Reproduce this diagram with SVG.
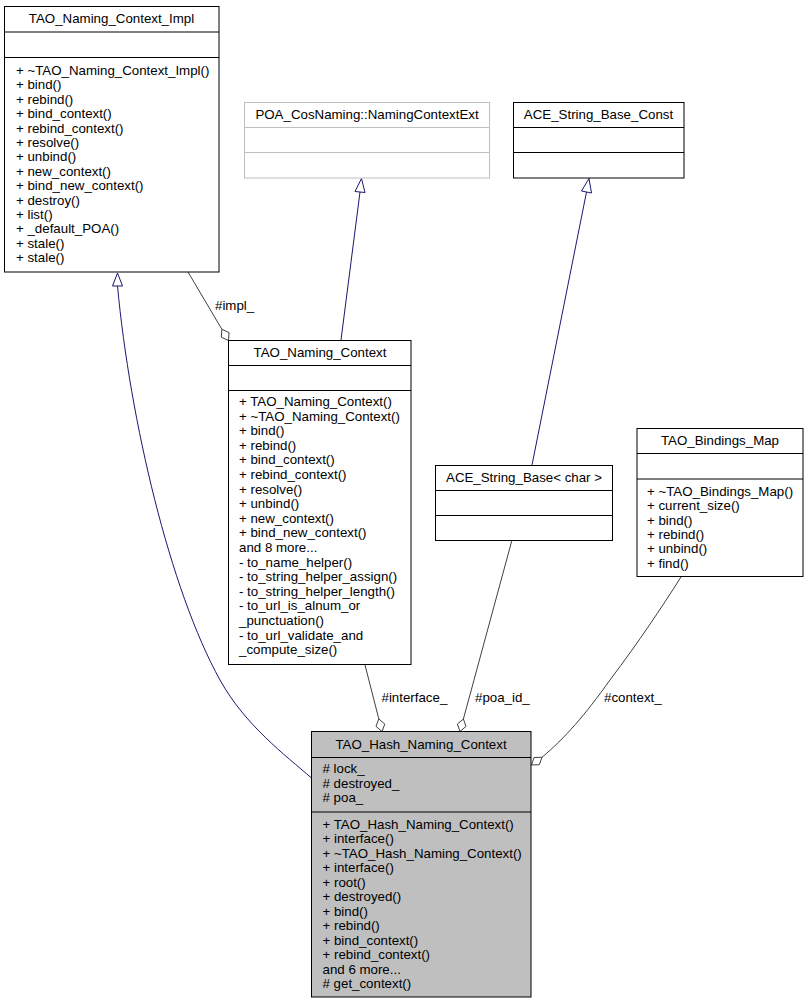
<svg xmlns="http://www.w3.org/2000/svg" width="808" height="1005" viewBox="0 0 808 1005">
<style>
text{font-family:"Liberation Sans",Arial,Helvetica,sans-serif;font-size:13.3px;fill:#000}
.t{text-anchor:middle}
.box{fill:#fff;stroke:#000;stroke-width:1}
.sep{stroke:#000;stroke-width:1}
.gbox{fill:#fff;stroke:#bfbfbf;stroke-width:1}
.gsep{stroke:#bfbfbf;stroke-width:1}
.hbox{fill:#bfbfbf;stroke:#000;stroke-width:1}
.gen{fill:none;stroke:#191970;stroke-width:1}
.genh{fill:#fff;stroke:#191970;stroke-width:1}
.agg{fill:none;stroke:#404040;stroke-width:1}
.aggh{fill:#fff;stroke:#404040;stroke-width:1}
</style>
<rect width="808" height="1005" fill="#fff"/>
<g id="connectors">
  <path class="gen" d="M311.5,778 C285,755 245,725 220,680 C170,590 130,420 117.5,286"/>
  <polygon class="genh" points="117.5,273 112.5,286 122.5,286"/>
  <path class="gen" d="M341,340 L360,192"/>
  <polygon class="genh" points="361.5,178.5 355,191.5 365,192.5"/>
  <path class="gen" d="M532,465 L586.5,192"/>
  <polygon class="genh" points="589,178.5 581.5,191 591.5,193"/>
  <path class="agg" d="M188,272 L221.9,329.3"/>
  <polygon class="aggh" points="228.5,340.5 229.1,332.6 221.9,329.3 221.3,337.2"/>
  <text x="215" y="310">#impl_</text>
  <path class="agg" d="M365,665 L378.8,718.9"/>
  <polygon class="aggh" points="382,731.5 384.8,724.1 378.8,718.9 376.0,726.3"/>
  <text x="381.5" y="702">#interface_</text>
  <path class="agg" d="M512,540 L463.4,719"/>
  <polygon class="aggh" points="460,731.5 466.0,726.4 463.4,719 457.4,724.0"/>
  <text x="475" y="702">#poa_id_</text>
  <path class="agg" d="M681,577 C660,610 640,640 610,680 C585,715 565,738 542,757.3"/>
  <polygon class="aggh" points="531.5,765 539.4,764.7 542,757.3 534.0,757.5"/>
  <text x="604" y="702">#context_</text>
</g>
<g id="TAO_Naming_Context_Impl">
  <rect class="box" x="4.5" y="6.5" width="214.5" height="265.5"/>
  <line class="sep" x1="4.5" y1="32" x2="219" y2="32"/>
  <line class="sep" x1="4.5" y1="57.5" x2="219" y2="57.5"/>
  <text class="t" x="111.5" y="23">TAO_Naming_Context_Impl</text>
  <text x="16" y="75">+ ~TAO_Naming_Context_Impl()</text>
  <text x="16" y="89.4">+ bind()</text>
  <text x="16" y="103.8">+ rebind()</text>
  <text x="16" y="118.2">+ bind_context()</text>
  <text x="16" y="132.6">+ rebind_context()</text>
  <text x="16" y="147">+ resolve()</text>
  <text x="16" y="161.4">+ unbind()</text>
  <text x="16" y="175.8">+ new_context()</text>
  <text x="16" y="190.2">+ bind_new_context()</text>
  <text x="16" y="204.6">+ destroy()</text>
  <text x="16" y="219">+ list()</text>
  <text x="16" y="233.4">+ _default_POA()</text>
  <text x="16" y="247.8">+ stale()</text>
  <text x="16" y="262.2">+ stale()</text>
</g>
<g id="POA_CosNaming_NamingContextExt">
  <rect class="gbox" x="244.5" y="102.5" width="245" height="75.5"/>
  <line class="gsep" x1="244.5" y1="127.5" x2="489.5" y2="127.5"/>
  <line class="gsep" x1="244.5" y1="152.5" x2="489.5" y2="152.5"/>
  <text class="t" x="367" y="119">POA_CosNaming::NamingContextExt</text>
</g>
<g id="ACE_String_Base_Const">
  <rect class="box" x="513.5" y="102.5" width="170.5" height="75.5"/>
  <line class="sep" x1="513.5" y1="127.5" x2="684" y2="127.5"/>
  <line class="sep" x1="513.5" y1="152.5" x2="684" y2="152.5"/>
  <text class="t" x="598.5" y="119">ACE_String_Base_Const</text>
</g>
<g id="TAO_Naming_Context">
  <rect class="box" x="228.5" y="340.5" width="182.5" height="324"/>
  <line class="sep" x1="228.5" y1="365.5" x2="411" y2="365.5"/>
  <line class="sep" x1="228.5" y1="390.5" x2="411" y2="390.5"/>
  <text class="t" x="320" y="357">TAO_Naming_Context</text>
  <text x="239" y="406">+ TAO_Naming_Context()</text>
  <text x="239" y="420.6">+ ~TAO_Naming_Context()</text>
  <text x="239" y="435.2">+ bind()</text>
  <text x="239" y="449.8">+ rebind()</text>
  <text x="239" y="464.4">+ bind_context()</text>
  <text x="239" y="479">+ rebind_context()</text>
  <text x="239" y="493.6">+ resolve()</text>
  <text x="239" y="508.2">+ unbind()</text>
  <text x="239" y="522.8">+ new_context()</text>
  <text x="239" y="537.4">+ bind_new_context()</text>
  <text x="239" y="552">and 8 more...</text>
  <text x="239" y="566.6">- to_name_helper()</text>
  <text x="239" y="581.2">- to_string_helper_assign()</text>
  <text x="239" y="595.8">- to_string_helper_length()</text>
  <text x="239" y="610.4">- to_url_is_alnum_or</text>
  <text x="239" y="625">_punctuation()</text>
  <text x="239" y="639.6">- to_url_validate_and</text>
  <text x="239" y="654.2">_compute_size()</text>
</g>
<g id="ACE_String_Base_char">
  <rect class="box" x="435.5" y="465.5" width="177" height="75"/>
  <line class="sep" x1="435.5" y1="490.5" x2="612.5" y2="490.5"/>
  <line class="sep" x1="435.5" y1="515.5" x2="612.5" y2="515.5"/>
  <text class="t" x="524" y="482">ACE_String_Base&lt; char &gt;</text>
</g>
<g id="TAO_Bindings_Map">
  <rect class="box" x="637" y="428.5" width="166" height="148"/>
  <line class="sep" x1="637" y1="453.5" x2="803" y2="453.5"/>
  <line class="sep" x1="637" y1="479" x2="803" y2="479"/>
  <text class="t" x="720" y="445">TAO_Bindings_Map</text>
  <text x="647" y="496">+ ~TAO_Bindings_Map()</text>
  <text x="647" y="510.3">+ current_size()</text>
  <text x="647" y="524.6">+ bind()</text>
  <text x="647" y="538.9">+ rebind()</text>
  <text x="647" y="553.2">+ unbind()</text>
  <text x="647" y="567.5">+ find()</text>
</g>
<g id="TAO_Hash_Naming_Context">
  <rect class="hbox" x="311.5" y="731.5" width="219.5" height="265.5"/>
  <line class="sep" x1="311.5" y1="757.5" x2="531" y2="757.5"/>
  <line class="sep" x1="311.5" y1="812" x2="531" y2="812"/>
  <text class="t" x="421" y="748.5">TAO_Hash_Naming_Context</text>
  <text x="322.5" y="773">#&#160;lock_</text>
  <text x="322.5" y="787.5">#&#160;destroyed_</text>
  <text x="322.5" y="802">#&#160;poa_</text>
  <text x="322.5" y="829">+ TAO_Hash_Naming_Context()</text>
  <text x="322.5" y="843.45">+ interface()</text>
  <text x="322.5" y="857.9">+ ~TAO_Hash_Naming_Context()</text>
  <text x="322.5" y="872.35">+ interface()</text>
  <text x="322.5" y="886.8">+ root()</text>
  <text x="322.5" y="901.25">+ destroyed()</text>
  <text x="322.5" y="915.7">+ bind()</text>
  <text x="322.5" y="930.15">+ rebind()</text>
  <text x="322.5" y="944.6">+ bind_context()</text>
  <text x="322.5" y="959.05">+ rebind_context()</text>
  <text x="322.5" y="973.5">and 6 more...</text>
  <text x="322.5" y="988">#&#160;get_context()</text>
</g>
</svg>
